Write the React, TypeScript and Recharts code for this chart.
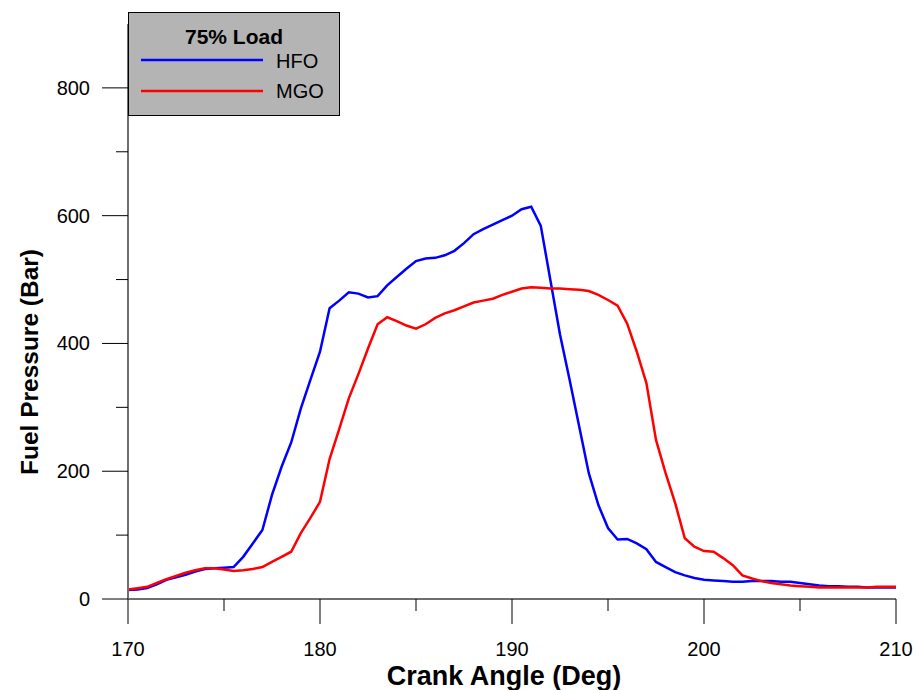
import React from "react";
import { Legend, Line, LineChart, XAxis, YAxis } from "recharts";

// crank angle in degrees, sampled every half degree
const angles = [
  170, 170.5, 171, 171.5, 172, 172.5, 173, 173.5, 174, 174.5,
  175, 175.5, 176, 176.5, 177, 177.5, 178, 178.5, 179, 179.5,
  180, 180.5, 181, 181.5, 182, 182.5, 183, 183.5, 184, 184.5,
  185, 185.5, 186, 186.5, 187, 187.5, 188, 188.5, 189, 189.5,
  190, 190.5, 191, 191.5, 192, 192.5, 193, 193.5, 194, 194.5,
  195, 195.5, 196, 196.5, 197, 197.5, 198, 198.5, 199, 199.5,
  200, 200.5, 201, 201.5, 202, 202.5, 203, 203.5, 204, 204.5,
  205, 205.5, 206, 206.5, 207, 207.5, 208, 208.5, 209, 209.5,
  210,
];

// fuel pressure (bar)
const hfo = [
  14, 15, 17, 23, 30, 34, 38, 43, 47, 48,
  49, 50, 66, 87, 108, 163, 207, 245, 298, 343,
  387, 455, 467, 480, 478, 472, 474, 491, 504, 517,
  529, 533, 534, 538, 545, 557, 571, 579, 586, 593,
  600, 610, 614, 584, 499, 414, 343, 270, 197, 147,
  111, 93, 94, 87, 78, 58, 50, 42, 37, 33,
  30, 29, 28, 27, 27, 28, 28, 28, 27, 27,
  25, 23, 21, 20, 20, 19, 19, 18, 18, 18,
  18,
];

const mgo = [
  15, 17, 19, 25, 31, 36, 41, 45, 48, 48,
  46, 44, 45, 47, 50, 58, 66, 74, 103, 127,
  152, 219, 266, 314, 352, 392, 430, 441, 435, 428,
  423, 430, 440, 447, 452, 458, 464, 467, 470, 476,
  481, 486, 488, 487, 486, 486, 485, 484, 482, 476,
  468, 459, 431, 387, 338, 249, 197, 150, 95, 82,
  75, 74, 64, 53, 37, 32, 28, 25, 23, 21,
  20, 19, 18, 18, 18, 18, 18, 18, 19, 19,
  19,
];

const xTicks = [170, 175, 180, 185, 190, 195, 200, 205, 210];
const yTicks = [0, 100, 200, 300, 400, 500, 600, 700, 800];

const data = angles.map((angle, i) => ({ angle, hfo: hfo[i], mgo: mgo[i] }));

const font = "Arial, 'Liberation Sans', sans-serif";

const XTick = ({ x, y, payload }: any) => {
  const major = payload.value % 10 === 0;
  return (
    <g>
      <line x1={x} x2={x} y1={y} y2={y + (major ? 25 : 12)} stroke="#000" />
      {major && (
        <text x={x} y={y + 56.5} textAnchor="middle" fontSize={20} fill="#000" fontFamily={font}>
          {payload.value}
        </text>
      )}
    </g>
  );
};

const YTick = ({ x, y, payload }: any) => {
  const major = payload.value % 200 === 0;
  return (
    <g>
      <line x1={x - (major ? 26 : 12)} x2={x} y1={y} y2={y} stroke="#000" />
      {major && (
        <text x={x - 38} y={y + 7} textAnchor="end" fontSize={20} fill="#000" fontFamily={font}>
          {payload.value}
        </text>
      )}
    </g>
  );
};

const LegendBox = () => (
  <svg width={213} height={105} style={{ display: "block" }}>
    <rect x={0.5} y={0.5} width={211} height={103} fill="#b4b4b4" stroke="#000" />
    <text x={106} y={32} textAnchor="middle" fontSize={21} fontWeight="bold" fontFamily={font}>
      75% Load
    </text>
    <line x1={13} x2={135} y1={48} y2={48} stroke="#0000ff" strokeWidth={2.5} />
    <text x={148} y={56} fontSize={20} fontFamily={font}>HFO</text>
    <line x1={13} x2={135} y1={79} y2={79} stroke="#ff0000" strokeWidth={2.5} />
    <text x={148} y={86} fontSize={20} fontFamily={font}>MGO</text>
  </svg>
);

export default function App() {
  return (
    <div style={{ position: "absolute", left: 0, top: 0, background: "#fff", fontFamily: font }}>
      <LineChart width={916} height={690} data={data} margin={{ top: 24, right: 20, bottom: 0, left: 0 }}>
        <XAxis
          type="number"
          dataKey="angle"
          domain={[170, 210]}
          ticks={xTicks}
          interval={0}
          height={91}
          tickLine={false}
          tickSize={0}
          tickMargin={0}
          tick={<XTick />}
          axisLine={{ stroke: "#6e6e6e", strokeWidth: 2 }}
          label={{
            content: () => (
              <text x={504} y={684.5} textAnchor="middle" fontSize={27} fontWeight="bold" fontFamily={font}>
                Crank Angle (Deg)
              </text>
            ),
          }}
        />
        <YAxis
          type="number"
          domain={[0, 900]}
          ticks={yTicks}
          interval={0}
          width={128}
          tickLine={false}
          tickSize={0}
          tickMargin={0}
          tick={<YTick />}
          axisLine={{ stroke: "#6e6e6e", strokeWidth: 2 }}
          label={{
            content: () => (
              <text
                x={38}
                y={362}
                transform="rotate(-90 38 362)"
                textAnchor="middle"
                fontSize={24.5}
                fontWeight="bold"
                fontFamily={font}
              >
                Fuel Pressure (Bar)
              </text>
            ),
          }}
        />
        <Legend
          layout="horizontal"
          verticalAlign="middle"
          align="center"
          wrapperStyle={{ position: "absolute", left: 128, top: 12, width: 213, height: 105 }}
          content={() => <LegendBox />}
        />
        <Line type="linear" dataKey="hfo" stroke="#0000ff" strokeWidth={2.5} dot={false} isAnimationActive={false} />
        <Line type="linear" dataKey="mgo" stroke="#ff0000" strokeWidth={2.5} dot={false} isAnimationActive={false} />
      </LineChart>
    </div>
  );
}
